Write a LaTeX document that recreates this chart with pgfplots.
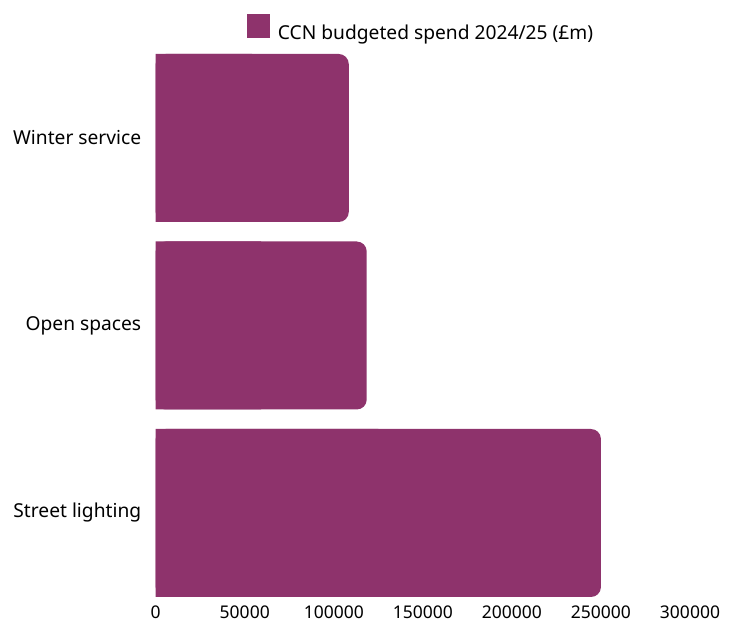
\documentclass[border=0pt]{standalone}
\usepackage{fontspec}
\setmainfont{Noto Sans}
\usepackage{pgfplots}
\usepackage{pgfplotstable}
\pgfplotsset{compat=1.18}
\definecolor{barcol}{RGB}{142,51,108}
\pgfplotstableread{
y v
0 250000
1 118500
2 108400
}\data
\begin{document}
\begin{tikzpicture}
\useasboundingbox (-155.7bp,-16.25bp) rectangle (581.3bp,606.75bp);
\begin{axis}[
  at={(0,0)}, anchor=south west,
  scale only axis,
  width=534.3bp, height=562.5bp,
  xbar, bar shift=0pt, bar width=0.896,
  xmin=0, xmax=300000,
  ymin=-0.5, ymax=2.5,
  xtick={0,50000,100000,150000,200000,250000,300000},
  xticklabels={0,50000,100000,150000,200000,250000,300000},
  ytick={0,1,2},
  yticklabels={Street lighting, Open spaces, Winter service},
  axis line style={draw=none},
  major tick length=0pt,
  scaled x ticks=false,
  xticklabel style={font=\fontsize{17.5bp}{20bp}\selectfont, anchor=base, inner sep=0pt, yshift=-11.75bp},
  yticklabel style={font=\fontsize{19.2bp}{23bp}\selectfont, anchor=east, xshift=-11bp},
  legend style={at={(0.5,1)}, anchor=south, draw=none, fill=none, inner sep=0pt, outer sep=0pt,
     yshift=1.5bp, xshift=-1.65bp,
     font=\fontsize{19.2bp}{23bp}\selectfont,
     /tikz/every odd column/.append style={column sep=6bp}},
  legend image code/.code={\fill[barcol, sharp corners] (0bp,-5bp) rectangle (22.6bp,18.4bp);},
  clip=false,
]
\addplot[fill=barcol, draw=none, rounded corners=10bp] table[x=v, y=y] {\data};
\addlegendentry{CCN budgeted spend 2024/25 (£m)}
\addplot[fill=barcol, draw=none, forget plot] table[x expr=\thisrow{v}/2, y=y] {\data};
\end{axis}
\end{tikzpicture}
\end{document}
